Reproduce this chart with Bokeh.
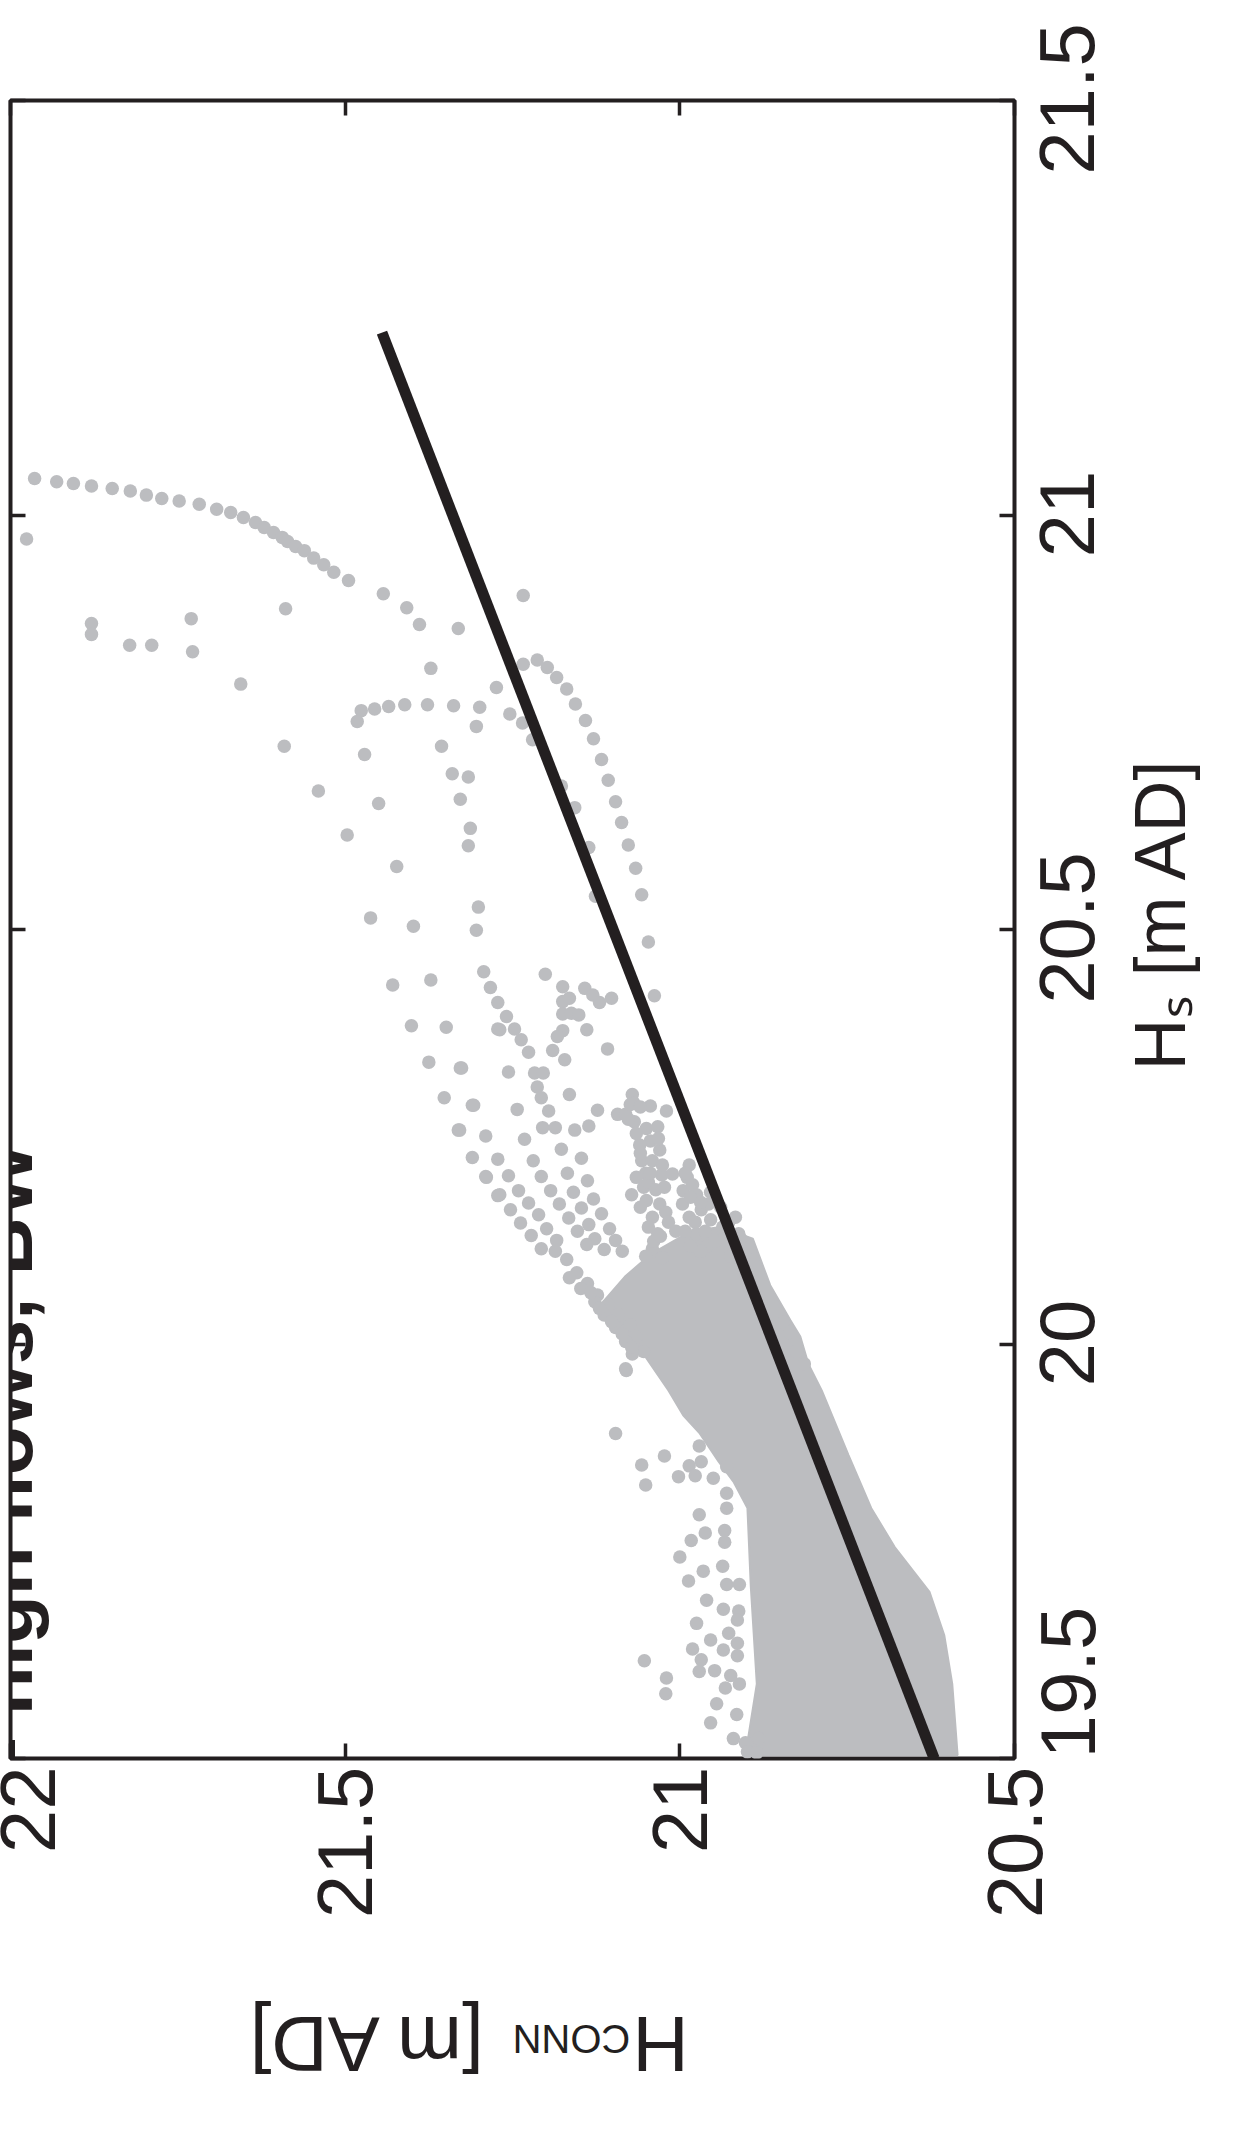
import math
from bokeh.plotting import figure
from bokeh.models import Range1d, LinearAxis, FixedTicker, Label
from bokeh.embed import file_html
from bokeh.resources import INLINE

# ---------------- data ----------------
hs_ticks = [19.5, 20.0, 20.5, 21.0, 21.5]
hs_tick_labels = ["19.5", "20", "20.5", "21", "21.5"]
hconn_ticks = [20.5, 21.0, 21.5, 22.0]
hconn_tick_labels = ["20.5", "21", "21.5", "22"]

# upper arc of points
arc_hconn = [21.964, 21.931, 21.906, 21.879, 21.848, 21.821, 21.797, 21.774, 21.748, 21.718,
             21.692, 21.671, 21.652, 21.634, 21.621, 21.607, 21.594, 21.586, 21.574, 21.561,
             21.547, 21.532, 21.517, 21.495, 21.443, 21.408, 21.389, 21.372, 21.274]
arc_hs = [21.044, 21.040, 21.038, 21.035, 21.032, 21.029, 21.024, 21.020, 21.017, 21.013,
          21.007, 21.003, 20.997, 20.991, 20.985, 20.979, 20.973, 20.968, 20.962, 20.957,
          20.948, 20.940, 20.931, 20.921, 20.905, 20.888, 20.868, 20.815, 20.792]

# scattered upper points
upper_hconn = [21.976, 21.879, 21.879, 21.822, 21.789, 21.730, 21.728, 21.589, 21.656, 21.331,
               21.234, 21.476, 21.456, 21.435, 21.411, 21.377, 21.338, 21.299, 21.482, 21.304,
               21.254, 21.235, 21.220, 21.591, 21.471, 21.356, 21.340, 21.316, 21.540, 21.450,
               21.328, 21.497, 21.313, 21.316, 21.423, 21.301, 21.462, 21.398, 21.304, 21.177,
               21.157, 21.136, 21.126]
upper_hs = [20.971, 20.869, 20.856, 20.843, 20.843, 20.875, 20.835, 20.887, 20.796, 20.863,
            20.903, 20.764, 20.766, 20.769, 20.771, 20.771, 20.770, 20.768, 20.751, 20.745,
            20.760, 20.749, 20.729, 20.721, 20.711, 20.721, 20.688, 20.684, 20.667, 20.652,
            20.657, 20.614, 20.622, 20.601, 20.576, 20.527, 20.514, 20.504, 20.499, 20.673,
            20.647, 20.599, 20.540]

# arc right of the fitted line
hump_hconn = [21.234, 21.213, 21.198, 21.184, 21.169, 21.156, 21.141, 21.129, 21.117, 21.107,
              21.096, 21.087, 21.077, 21.066, 21.057, 21.047, 21.038]
hump_hs = [20.820, 20.825, 20.816, 20.804, 20.790, 20.772, 20.752, 20.730, 20.705, 20.680,
           20.654, 20.629, 20.602, 20.574, 20.542, 20.485, 20.420]

# middle field (diagonal streaks)
mid_hconn = [21.429, 21.372, 21.293, 21.283, 21.272, 21.401, 21.349, 21.272, 21.375, 21.328,
             21.352, 21.310, 21.331, 21.290, 21.310, 21.272, 21.289, 21.272,
             21.259, 21.247, 21.269, 21.237, 21.226, 21.201, 21.175, 21.175, 21.175, 21.165,
             21.162, 21.142, 21.130, 21.120, 21.102, 21.151, 21.175, 21.183, 21.190, 21.172,
             21.139, 21.108, 21.326, 21.256, 21.217, 21.204, 21.213, 21.207, 21.196, 21.165,
             21.308, 21.243, 21.123, 21.329, 21.232, 21.205, 21.186, 21.157, 21.136, 21.177,
             21.147, 21.219, 21.290, 21.256, 21.207, 21.168, 21.138, 21.269, 21.241, 21.193,
             21.159, 21.129, 21.253, 21.226, 21.180, 21.147, 21.117, 21.238, 21.211, 21.199,
             21.166, 21.136, 21.105, 21.222, 21.184, 21.153, 21.127, 21.096, 21.207, 21.139,
             21.113, 21.086]
mid_hs = [20.433, 20.439, 20.449, 20.430, 20.412, 20.384, 20.382, 20.380, 20.340, 20.333,
          20.297, 20.288, 20.258, 20.251, 20.225, 20.223, 20.201, 20.179,
          20.395, 20.380, 20.379, 20.367, 20.352, 20.446, 20.431, 20.413, 20.398, 20.417,
          20.399, 20.429, 20.421, 20.412, 20.417, 20.397, 20.378, 20.371, 20.354, 20.343,
          20.379, 20.356, 20.333, 20.328, 20.327, 20.327, 20.310, 20.297, 20.281, 20.301,
          20.288, 20.283, 20.282, 20.258, 20.247, 20.261, 20.261, 20.258, 20.263, 20.235,
          20.224, 20.221, 20.202, 20.203, 20.202, 20.206, 20.197, 20.180, 20.185, 20.185,
          20.183, 20.175, 20.162, 20.170, 20.169, 20.164, 20.157, 20.146, 20.156, 20.139,
          20.152, 20.144, 20.139, 20.131, 20.125, 20.136, 20.127, 20.125, 20.115, 20.120,
          20.114, 20.112]

# near-vertical streaks feeding the dense core
streak_hconn = [21.071, 21.069, 21.044, 21.093, 21.081, 21.068, 21.050, 21.033, 21.020, 21.044,
                21.030, 21.060, 21.057, 21.041, 21.027, 21.011, 21.072, 21.054, 21.050, 21.030,
                21.041, 21.021, 21.017, 21.033, 21.041, 21.006, 21.039,
                20.986, 20.989, 20.995, 20.981, 20.996, 20.975, 20.986, 20.968, 20.957, 20.954,
                20.975, 20.960, 20.912, 20.908,
                20.845, 20.836, 20.826, 20.814,
                21.186, 21.169, 21.154, 21.138, 21.123, 21.107, 21.092, 21.075, 21.065, 21.054,
                21.165, 21.148, 21.127, 21.113, 21.096, 21.081, 21.071, 21.081, 21.133, 21.120,
                21.102, 21.086, 21.072]
streak_hs = [20.301, 20.291, 20.287, 20.277, 20.277, 20.268, 20.260, 20.262, 20.281, 20.245,
             20.234, 20.240, 20.221, 20.221, 20.204, 20.205, 20.180, 20.189, 20.173, 20.169,
             20.153, 20.159, 20.147, 20.133, 20.115, 20.136, 20.124,
             20.216, 20.201, 20.185, 20.192, 20.169, 20.180, 20.153, 20.162, 20.169, 20.150,
             20.133, 20.118, 20.133, 20.114,
             20.026, 20.014, 19.991, 19.976,
             20.112, 20.102, 20.086, 20.073, 20.059, 20.047, 20.035, 20.023, 20.008, 19.991,
             20.080, 20.067, 20.051, 20.035, 20.020, 20.003, 19.988, 19.970, 20.062, 20.043,
             20.027, 20.012, 19.996]

# extra points thickening the streak columns
column_hconn = [21.077, 21.065, 21.059, 21.051, 21.047, 21.065, 21.059, 21.047, 21.029, 21.051,
                21.026, 21.036, 21.026, 21.074, 21.059, 21.032, 21.023, 21.044,
                20.992, 20.984, 20.969, 20.977, 20.962, 20.992, 20.969, 20.947, 20.984, 20.954,
                20.939, 20.927, 20.917, 20.932, 20.909, 20.902, 20.924, 20.936]
column_hs = [20.271, 20.254, 20.230, 20.206, 20.195, 20.201, 20.165, 20.141, 20.130, 20.106,
             20.104, 20.186, 20.216, 20.289, 20.286, 20.248, 20.189, 20.206,
             20.206, 20.177, 20.171, 20.147, 20.136, 20.136, 20.112, 20.124, 20.118, 20.183,
             20.165, 20.147, 20.153, 20.130, 20.127, 20.108, 20.106, 20.141]

# lower-left scatter beside the dense core
low_hconn = [21.080, 21.096, 21.023, 21.057, 21.051, 21.002, 20.971, 20.968, 20.986, 20.977,
             20.950, 20.930, 20.930, 20.930, 20.971, 20.962, 20.983, 20.933, 20.933, 21.000,
             20.965, 20.987, 20.936, 20.930, 20.911, 20.960, 20.935, 20.912, 20.975, 20.914,
             20.954, 20.927, 20.914, 20.981, 20.935, 20.968, 20.914, 21.053, 21.020, 21.021,
             20.971, 20.948, 20.924, 20.911, 20.932, 20.945, 20.915, 20.954, 20.920, 20.902,
             20.899, 20.882, 20.885]
low_hs = [19.968, 19.892, 19.865, 19.854, 19.830, 19.840, 19.877, 19.858, 19.853, 19.841,
          19.838, 19.852, 19.820, 19.802, 19.794, 19.772, 19.763, 19.775, 19.761, 19.743,
          19.726, 19.714, 19.732, 19.710, 19.710, 19.691, 19.680, 19.678, 19.663, 19.667,
          19.643, 19.651, 19.639, 19.632, 19.631, 19.619, 19.624, 19.618, 19.597, 19.578,
          19.605, 19.606, 19.600, 19.590, 19.585, 19.566, 19.553, 19.543, 19.524, 19.519,
          19.508, 19.524, 19.507]

# outline of the solid, fully overlapping cloud of points
core_hconn = [21.081, 21.044, 20.984, 20.939, 20.891, 20.865, 20.835, 20.820, 20.808, 20.788,
              20.748, 20.714, 20.679, 20.627, 20.605, 20.593, 20.585, 20.902, 20.885, 20.894,
              20.899, 20.920, 20.942, 20.971, 20.995, 21.017, 21.051, 21.096, 21.119]
core_hs = [20.082, 20.108, 20.136, 20.141, 20.127, 20.071, 20.029, 20.009, 19.976, 19.944,
           19.866, 19.802, 19.755, 19.701, 19.649, 19.590, 19.504, 19.504, 19.590, 19.708,
           19.802, 19.834, 19.858, 19.893, 19.914, 19.944, 19.984, 20.023, 20.047]

# fitted straight line
fit_hs = [19.5, 21.22]
fit_hconn = [20.62, 21.445]

# ---------------- text placement (axis units) ----------------
# right-hand numbers start at these values so that they end up centred on the ticks
hs_label_at = [19.5, 19.9488, 20.4103, 20.9488, 21.4103]
hs_title = "H\u209b [m AD]"
hs_title_at = 20.330                  # where the title starts (reads upwards)
hconn_title_parts = ["[m AD]", "H"]
hconn_title_at = [21.649, 21.0707]    # left end of each upside-down piece
hconn_title_sub = "CONN"
hconn_title_sub_at = 21.25
caption = "Fig. 22 \u2013 high flows, BW"

# ---------------- figure ----------------
INK = "#231f20"
DOT = "#bcbdc0"
FONT = "Liberation Sans"
W, H = 1248, 2134
FRAME_L, FRAME_R, FRAME_T, FRAME_B = 10, 1014, 100, 1793   # canvas pixels

p = figure(width=W, height=H,
           x_range=Range1d(22.0, 20.5), y_range=Range1d(19.5, 21.5),
           output_backend="svg", toolbar_location=None,
           x_axis_location="below", y_axis_location="right",
           min_border_left=FRAME_L, min_border_right=W - FRAME_R,
           min_border_top=FRAME_T, min_border_bottom=H - FRAME_B)
p.xgrid.visible = False
p.ygrid.visible = False
p.outline_line_color = INK
p.outline_line_width = 4
p.background_fill_color = "white"
p.border_fill_color = "white"


def setup_axis(ax, ticks, labels, size="10px", standoff=0, angle="horizontal",
               marks=False, bold=False):
    ax.ticker = FixedTicker(ticks=ticks)
    ax.major_label_overrides = {t: l for t, l in zip(ticks, labels)}
    ax.axis_line_color = None
    ax.minor_tick_line_color = None
    ax.major_tick_out = 0
    if marks:
        ax.major_tick_in = 15
        ax.major_tick_line_width = 3.5
        ax.major_tick_line_color = INK
    else:
        ax.major_tick_in = 0
        ax.major_tick_line_color = None
    ax.major_label_text_font = FONT
    ax.major_label_text_color = INK
    ax.major_label_text_font_size = size
    ax.major_label_text_font_style = "bold" if bold else "normal"
    ax.major_label_standoff = standoff
    ax.major_label_orientation = angle
    return ax


# ---- below: H_CONN numbers, then the upside-down title ----
setup_axis(p.xaxis[0], hconn_ticks, hconn_tick_labels, "78px", 8, math.pi / 2, marks=True)
p.add_layout(setup_axis(LinearAxis(), hconn_title_at, hconn_title_parts, "78px", 122, math.pi),
             "below")
p.add_layout(setup_axis(LinearAxis(), [hconn_title_sub_at], [hconn_title_sub], "40px", -96,
                        math.pi), "below")

# ---- right: tick marks, H_S numbers, title reading bottom-to-top ----
setup_axis(p.yaxis[0], hs_ticks, [""] * len(hs_ticks), marks=True)
p.add_layout(setup_axis(LinearAxis(), hs_label_at, hs_tick_labels, "78px", 53, math.pi / 2),
             "right")
p.add_layout(setup_axis(LinearAxis(), [hs_title_at], [hs_title], "72px", 36, math.pi / 2),
             "right")

# ---- mirrored tick marks on top and left ----
p.add_layout(setup_axis(LinearAxis(), hconn_ticks, [""] * len(hconn_ticks), marks=True), "above")
p.add_layout(setup_axis(LinearAxis(), hs_ticks, [""] * len(hs_ticks), marks=True), "left")

# ---------------- data marks ----------------
p.patch(core_hconn, core_hs, fill_color=DOT, line_color=DOT, line_width=2)
all_hconn = arc_hconn + upper_hconn + hump_hconn + mid_hconn + streak_hconn + column_hconn + low_hconn
all_hs = arc_hs + upper_hs + hump_hs + mid_hs + streak_hs + column_hs + low_hs
p.scatter(all_hconn, all_hs, size=13.5, fill_color=DOT, line_color=None)
p.line(fit_hconn, fit_hs, line_color=INK, line_width=11, line_cap="butt")

# page caption: in the reference only a sliver of it shows at the left edge
p.add_layout(Label(x=-6, y=FRAME_B - 2092, x_units="screen", y_units="screen",
                   text=caption, angle=math.pi / 2, text_font=FONT, text_font_size="80px",
                   text_font_style="bold", text_color=INK,
                   text_align="left", text_baseline="alphabetic"))

open("out.html", "w").write(file_html(p, INLINE))
